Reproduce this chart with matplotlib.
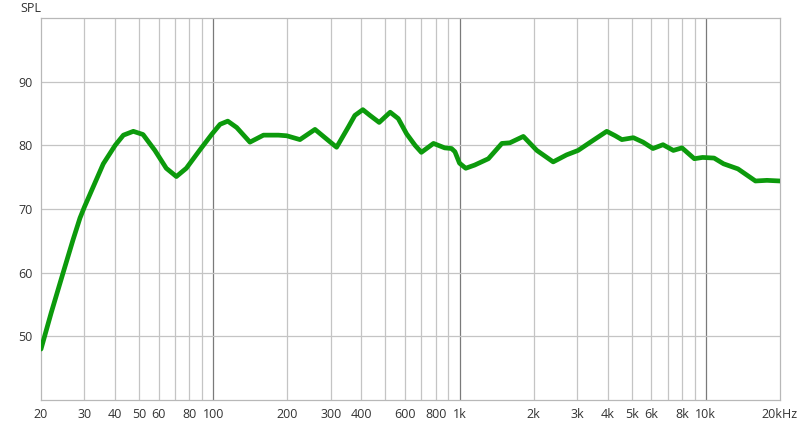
import matplotlib
matplotlib.use("Agg")
import matplotlib.pyplot as plt

plt.rcParams['font.family'] = ['Open Sans', 'DejaVu Sans']

# frequency response (Hz, dB)
freq = [20, 22.0, 24.6, 27.0, 28.8, 30, 32.6, 35.8, 40, 43.2, 47.4, 51.9, 58.0,
        64.5, 70.9, 77.8, 88.4, 99, 106.6, 114.6, 124.6, 141, 160, 184, 199, 225,
        259, 299, 317, 354, 376, 405, 433, 472, 523, 564, 610, 660, 700, 784, 871,
        928, 958, 1000, 1060, 1152, 1310, 1486, 1602, 1816, 2060, 2400, 2720, 3030,
        3400, 3960, 4290, 4560, 5080, 5560, 6100, 6700, 7380, 8000, 8980, 9700,
        10800, 11800, 13500, 15900, 17700, 20000]
spl = [48.0, 53.7, 60.0, 65.2, 68.6, 70.3, 73.5, 77.1, 80.0, 81.6, 82.2, 81.7,
       79.2, 76.4, 75.1, 76.4, 79.3, 81.8, 83.3, 83.8, 82.8, 80.5, 81.6, 81.6,
       81.5, 80.9, 82.5, 80.5, 79.7, 82.9, 84.7, 85.6, 84.7, 83.6, 85.2, 84.2,
       81.8, 80.0, 78.9, 80.3, 79.6, 79.5, 79.0, 77.2, 76.4, 76.9, 77.9, 80.3,
       80.4, 81.4, 79.2, 77.4, 78.5, 79.2, 80.5, 82.2, 81.5, 80.9, 81.2, 80.5,
       79.5, 80.1, 79.2, 79.6, 77.9, 78.1, 78.0, 77.1, 76.3, 74.4, 74.5, 74.4]

xticks = [20, 30, 40, 50, 60, 80, 100, 200, 300, 400, 600, 800, 1000, 2000, 3000,
          4000, 5000, 6000, 8000, 10000, 20000]
xlabels = ['20', '30', '40', '50', '60', '80', '100', '200', '300', '400', '600',
           '800', '1k', '2k', '3k', '4k', '5k', '6k', '8k', '10k', '20kHz']
yticks = [50, 60, 70, 80, 90]

fig = plt.figure(figsize=(8, 4.24), dpi=100)
ax = fig.add_axes([41 / 800, 24 / 424, 739 / 800, 382 / 424])
ax.set_xscale('log')
ax.set_xlim(20, 20000)
ax.set_ylim(40, 100)

# vertical grid: every 1-2-3..9 step, decades darker
for dec in [10, 100, 1000, 10000]:
    for m in range(1, 10):
        f = dec * m
        if 20 < f < 20000:
            c = '#7a7a7a' if m == 1 else '#c4c4c4'
            ax.axvline(f, color=c, lw=0.9, zorder=1)
for y in yticks:
    ax.axhline(y, color='#c4c4c4', lw=0.9, zorder=1)

ax.plot(freq, spl, color='#0c9a0c', lw=3.4, solid_joinstyle='round',
        solid_capstyle='round', zorder=3)

ax.set_xticks(xticks)
ax.set_xticklabels(xlabels)
ax.xaxis.set_minor_locator(matplotlib.ticker.NullLocator())
ax.set_yticks(yticks)
ax.tick_params(length=0, labelsize=9, colors='#333333', pad=6)
for s in ax.spines.values():
    s.set_color('#b8b8b8')
    s.set_linewidth(0.9)

fig.text(20 / 800, 1 - 9 / 424, 'SPL', fontsize=9, color='#333333', va='center')

fig.savefig('out.png', dpi=100)
